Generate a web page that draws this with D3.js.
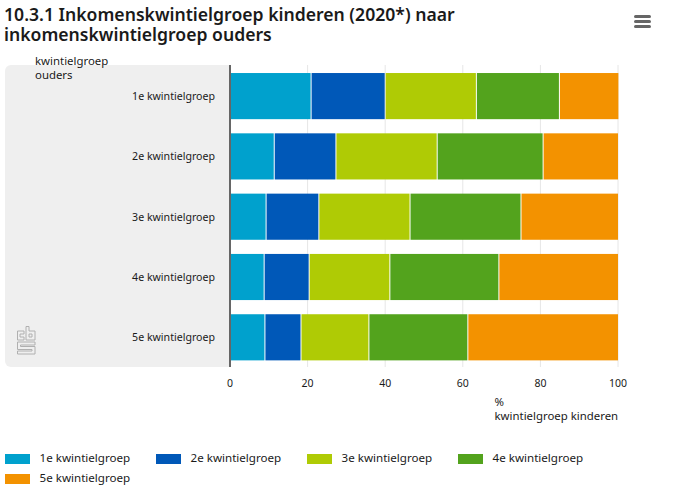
<!DOCTYPE html>
<html>
<head>
<meta charset="utf-8">
<script src="https://cdn.jsdelivr.net/npm/d3@7/dist/d3.min.js"></script>
<style>
html, body { margin: 0; padding: 0; background: #fff; overflow: hidden; }
text { font-family: "Noto Sans", sans-serif; fill: #1a1a1a; }
</style>
</head>
<body>
<script>
// data
var categories = ['1e kwintielgroep', '2e kwintielgroep', '3e kwintielgroep', '4e kwintielgroep', '5e kwintielgroep'];
var seriesNames = ['1e kwintielgroep', '2e kwintielgroep', '3e kwintielgroep', '4e kwintielgroep', '5e kwintielgroep'];
var q1 = [20.9, 11.4, 9.3, 8.8, 9.0];
var q2 = [19.1, 15.9, 13.6, 11.6, 9.3];
var q3 = [23.5, 26.1, 23.5, 20.8, 17.5];
var q4 = [21.4, 27.3, 28.6, 28.1, 25.5];
var q5 = [15.2, 19.3, 25.0, 30.7, 38.7];
var colors = ['#00a1cd', '#0058b8', '#afcb05', '#53a31d', '#f39200'];
var ticks = [0, 20, 40, 60, 80, 100];
var titleLines = ['10.3.1 Inkomenskwintielgroep kinderen (2020*) naar', 'inkomenskwintielgroep ouders'];

var width = 677, height = 489;
var margin = {left: 230, right: 59, top: 65, bottom: 122};

var svg = d3.select('body').append('svg')
	.attr('width', width)
	.attr('height', height)
	.style('display', 'block');

var x = d3.scaleLinear().domain([0, 100]).range([margin.left, width - margin.right]);
var y = d3.scaleBand().domain(categories).range([65.7, 367.7]).paddingInner(0.235).paddingOuter(0.1216);

// grey panel behind the category labels
svg.append('path')
	.attr('d', 'M230,65H11a6,6 0 0 0 -6,6V361a6,6 0 0 0 6,6H230Z')
	.attr('fill', '#efefef');

// title
svg.append('text')
	.attr('font-size', 17.6)
	.attr('font-weight', 600)
	.selectAll('tspan').data(titleLines).enter().append('tspan')
	.attr('x', 4)
	.attr('y', function(d, i){ return 21 + i * 20; })
	.text(function(d){ return d; });

// menu icon
svg.append('g').selectAll('rect').data([0, 1, 2]).enter().append('rect')
	.attr('x', 634)
	.attr('y', function(d){ return 15 + d * 5; })
	.attr('width', 17)
	.attr('height', 3)
	.attr('rx', 1.5)
	.attr('fill', '#666');

// grid
svg.append('g').selectAll('line').data(ticks.slice(1)).enter().append('line')
	.attr('x1', function(d){ return x(d); })
	.attr('x2', function(d){ return x(d); })
	.attr('y1', margin.top)
	.attr('y2', height - margin.bottom)
	.attr('stroke', '#e6e6e6')
	.attr('stroke-width', 1);

// stacked bars, 1px white gap centred on each segment boundary
var rows = categories.map(function(c, i){
	return {cat: c, q1: q1[i], q2: q2[i], q3: q3[i], q4: q4[i], q5: q5[i]};
});
var stack = d3.stack().keys(['q1', 'q2', 'q3', 'q4', 'q5']);

svg.append('g').selectAll('g').data(stack(rows)).enter().append('g')
	.attr('fill', function(d, i){ return colors[i]; })
	.selectAll('rect').data(function(d){ return d; }).enter().append('rect')
	.attr('x', function(d){ return x(d[0]) + (d[0] > 0 ? 0.5 : 0); })
	.attr('y', function(d){ return y(d.data.cat); })
	.attr('width', function(d){
		return x(d[1]) - x(d[0]) - (d[0] > 0 ? 0.5 : 0) - (d[1] < 99.9 ? 0.5 : 0);
	})
	.attr('height', y.bandwidth());

// axis line
svg.append('line')
	.attr('x1', 230).attr('x2', 230)
	.attr('y1', margin.top).attr('y2', height - margin.bottom)
	.attr('stroke', '#666')
	.attr('stroke-width', 2);

// category labels
svg.append('g').selectAll('text').data(categories).enter().append('text')
	.attr('x', 215)
	.attr('y', function(d){ return y(d) + y.bandwidth() / 2 + 4; })
	.attr('text-anchor', 'end')
	.attr('font-size', 10.6)
	.text(function(d){ return d; });

// x tick labels
svg.append('g').selectAll('text').data(ticks).enter().append('text')
	.attr('x', function(d){ return x(d); })
	.attr('y', 386.5)
	.attr('text-anchor', 'middle')
	.attr('font-size', 10.5)
	.text(function(d){ return d; });

// axis titles
function addLines(lines, xpos, ypos, anchor){
	svg.append('text')
		.attr('font-size', 11.4)
		.attr('text-anchor', anchor)
		.selectAll('tspan').data(lines).enter().append('tspan')
		.attr('x', xpos)
		.attr('y', function(d, i){ return ypos + i * 14; })
		.text(function(d){ return d; });
}
addLines(['kwintielgroep', 'ouders'], 35, 64.5, 'start');
addLines(['%', 'kwintielgroep kinderen'], 494.5, 406, 'start');

// legend
var legendPos = [[5, 458], [156, 458], [307, 458], [458, 458], [5, 478]];
var legend = svg.append('g').selectAll('g').data(seriesNames).enter().append('g')
	.attr('transform', function(d, i){ return 'translate(' + legendPos[i][0] + ',' + legendPos[i][1] + ')'; });
legend.append('rect')
	.attr('y', -4)
	.attr('width', 25)
	.attr('height', 10)
	.attr('fill', function(d, i){ return colors[i]; });
legend.append('text')
	.attr('x', 34.5)
	.attr('y', 4)
	.attr('font-size', 11.6)
	.text(function(d){ return d; });

// cbs logo
var logo = svg.append('g')
	.attr('transform', 'translate(17,326)')
	.attr('fill', 'none')
	.attr('stroke', '#b0b0b0')
	.attr('stroke-width', 1);
logo.append('path').attr('d', 'M0.5,5H7V8H3V11H7V14H0.5Z');
logo.append('path').attr('d', 'M9,0.5H12V5H18V14H9ZM12,8V11H15V8Z');
logo.append('path').attr('d', 'M0.5,16H18V19H3.5V20.5H18V28H0.5V25H15V23.5H0.5Z');
</script>
</body>
</html>
